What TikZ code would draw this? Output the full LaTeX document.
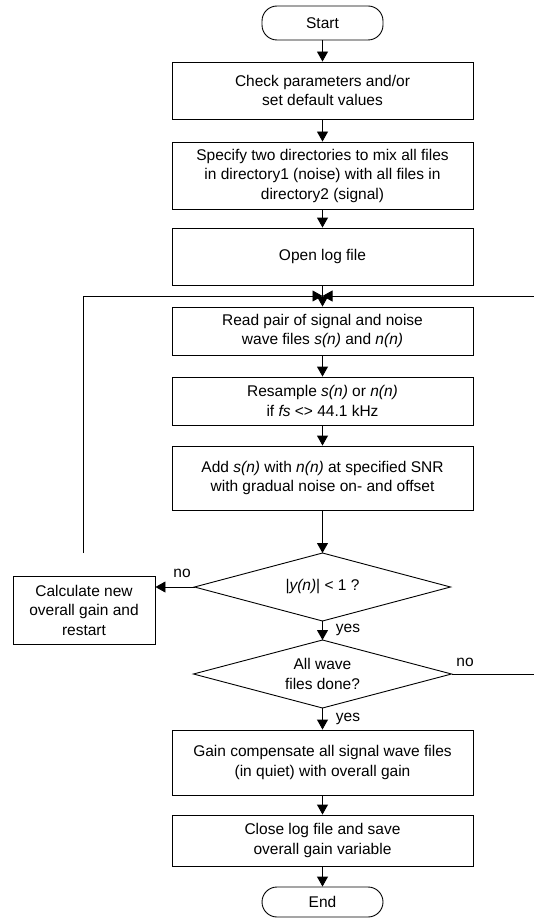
\documentclass[tikz,border=0pt]{standalone}
\usepackage{fontspec}
\setmainfont{Liberation Sans}
\usetikzlibrary{arrows.meta,shapes.geometric}
\begin{document}
\begin{tikzpicture}[x=1pt,y=-1pt,
  every node/.style={font=\fontsize{15.5}{19.5}\selectfont},
  box/.style={draw,line width=0.9pt,minimum width=301pt,inner sep=0pt,align=center},
  term/.style={draw,line width=0.9pt,rounded corners=15pt,minimum width=121pt,inner sep=0pt},
  dec/.style={draw,diamond,line width=0.9pt,inner sep=0pt,outer sep=0pt},
  arr/.style={line width=0.9pt,-{Triangle[length=10pt,width=11pt]}},
  ln/.style={line width=0.9pt},
  lab/.style={inner sep=0pt,align=center}]
\useasboundingbox (0,0) rectangle (533,920);
\node[term,minimum height=34pt] (start) at (322.5,23) {Start};
\node[box,minimum height=57pt] (b1) at (322.5,90.5) {Check parameters and/or\\set default values};
\node[box,minimum height=67pt] (b2) at (322.5,175.5) {Specify two directories to mix all files\\in directory1 (noise) with all files in\\directory2 (signal)};
\node[box,minimum height=57pt] (b3) at (322.5,256.5) {Open log file};
\coordinate (j) at (322.5,296);
\node[box,minimum height=48pt] (b4) at (322.5,331) {Read pair of signal and noise\\wave files \textit{s(n)} and \textit{n(n)}};
\node[box,minimum height=48pt] (b5) at (322.5,401) {Resample \textit{s(n)} or \textit{n(n)}\\if \textit{fs} <> 44.1 kHz};
\node[box,minimum height=64pt] (b6) at (322.5,478) {Add \textit{s(n)} with \textit{n(n)} at specified SNR\\with gradual noise on- and offset};
\node[dec,minimum width=256pt,minimum height=68pt] (d1) at (322.5,587) {};
\node[lab] (t1) at (d1.center) {|\textit{y(n)}| < 1 ?};
\node[draw,line width=0.9pt,minimum width=142pt,minimum height=68pt,inner sep=0pt,align=center] (calc) at (84,610) {Calculate new\\overall gain and\\restart};
\coordinate (cl) at (83,553);
\node[dec,minimum width=258pt,minimum height=68pt] (d2) at (322.5,674) {};
\node[lab] (t2) at (d2.center) {All wave\\files done?};
\node[box,minimum height=65pt] (b7) at (322.5,762.5) {Gain compensate all signal wave files\\(in quiet) with overall gain};
\node[box,minimum height=51pt] (b8) at (322.5,840.5) {Close log file and save\\overall gain variable};
\node[term,minimum height=30pt] (end) at (322.5,902) {End};
\coordinate (r1) at (540,674);
\coordinate (r2) at (540,296);
\draw[arr] (start) -- (b1);
\draw[arr] (b1) -- (b2);
\draw[arr] (b2) -- (b3);
\draw[ln] (b3) -- (j);
\draw[arr] (j) -- (b4);
\draw[arr] (b4) -- (b5);
\draw[arr] (b5) -- (b6);
\draw[arr] (b6) -- (d1.north);
\draw[arr] (d1.west) -- (d1.west -| calc.east);
\draw[arr] (cl) -- (cl |- j) -- (j);
\draw[arr] (d1.south) -- (d2.north);
\draw[arr] (d2.east) -- (r1) -- (r2) -- (j);
\draw[arr] (d2.south) -- (b7);
\draw[arr] (b7) -- (b8);
\draw[arr] (b8) -- (end);
\node[lab] (no1) at (182,573) {no};
\node[lab] (yes1) at (348,630) {yes};
\node[lab] (no2) at (465,662) {no};
\node[lab] (yes2) at (348,719) {yes};
\end{tikzpicture}
\end{document}
